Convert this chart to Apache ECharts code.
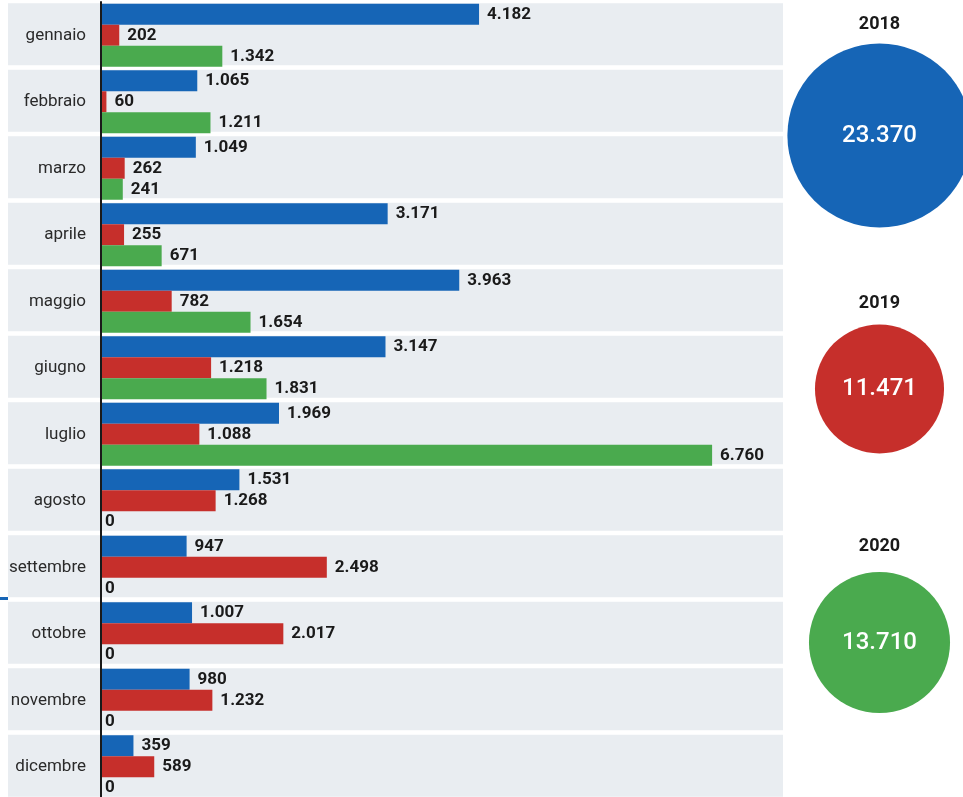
<!DOCTYPE html>
<html><head><meta charset="utf-8">
<script src="https://cdn.jsdelivr.net/npm/echarts@6/dist/echarts.min.js"></script>
<style>html,body{margin:0;padding:0;background:#fff}#c{width:963px;height:797px}</style>
</head><body><div id="c"></div>
<script>
// ---- data ----
const months = ['gennaio','febbraio','marzo','aprile','maggio','giugno','luglio','agosto','settembre','ottobre','novembre','dicembre'];
const v2018 = [4182,1065,1049,3171,3963,3147,1969,1531,947,1007,980,359];
const v2019 = [202,60,262,255,782,1218,1088,1268,2498,2017,1232,589];
const v2020 = [1342,1211,241,671,1654,1831,6760,0,0,0,0,0];
const years = ['2018','2019','2020'];
const totals = [23370,11471,13710];

// ---- style ----
const FONT = "Roboto,'Liberation Sans',sans-serif";
const COLORS = ['#1665b6','#c62f2b','#4aaa4e'];
const BAND = '#e9edf1';
const titleDistance = [10, 12, 16];
const fmt = v => String(v).replace(/\B(?=(\d{3})+(?!\d))/g, '.');

const chart = echarts.init(document.getElementById('c'), null, {renderer: 'canvas'});

function barSeries(name, vals, color) {
  return {
    name, type: 'bar', xAxisIndex: 0, yAxisIndex: 0, z: 3,
    barWidth: 21, barGap: '0%',
    itemStyle: {color},
    label: {show: true, position: 'right', distance: 8, color: '#1a1a1a',
      fontFamily: FONT, fontWeight: 'bold', fontSize: 17, formatter: p => fmt(p.value)},
    data: vals.map(v => v === 0 ? {value: v, label: {distance: 4}} : v)
  };
}

const option = {
  animation: false,
  backgroundColor: '#fff',
  grid: [
    {left: 101, right: 184, top: 2, height: 798, outerBoundsMode: 'none'},
    {left: 8, right: 180, top: 1, height: 798, outerBoundsMode: 'none'},
    {left: 829.5, width: 100, top: 8.75, height: 760.5, outerBoundsMode: 'none'}
  ],
  xAxis: [
    {gridIndex: 0, type: 'value', min: 0, max: 7500, show: false},
    {gridIndex: 1, type: 'value', min: 0, max: 1, show: false},
    {gridIndex: 2, type: 'category', data: ['totale'], show: false}
  ],
  yAxis: [
    {gridIndex: 0, type: 'category', data: months, inverse: true, z: 5,
      axisLine: {show: true, lineStyle: {color: '#1a1a1a', width: 2}},
      axisTick: {show: false}, splitLine: {show: false},
      axisLabel: {color: '#2a2a2a', fontFamily: FONT, fontSize: 17, margin: 15}},
    {gridIndex: 1, type: 'category', data: months, inverse: true, show: false},
    {gridIndex: 2, type: 'category', data: years, inverse: true, show: false}
  ],
  series: [
    {type: 'bar', xAxisIndex: 1, yAxisIndex: 1, z: 0, silent: true,
      barWidth: 62, itemStyle: {color: BAND}, data: months.map(() => 1)},
    barSeries('2018', v2018, COLORS[0]),
    barSeries('2019', v2019, COLORS[1]),
    barSeries('2020', v2020, COLORS[2]),
    {type: 'scatter', xAxisIndex: 2, yAxisIndex: 2, z: 4, silent: true,
      symbol: 'circle',
      symbolSize: (val, p) => 1.205 * Math.sqrt(totals[p.dataIndex]),
      data: years.map((y, i) => ({value: ['totale', y], itemStyle: {color: COLORS[i], opacity: 1}})),
      label: {show: true, position: 'inside', color: '#fff', fontFamily: FONT, fontSize: 24, fontWeight: 500,
        formatter: p => fmt(totals[p.dataIndex])}},
    {type: 'scatter', xAxisIndex: 2, yAxisIndex: 2, z: 4, silent: true,
      symbol: 'circle',
      symbolSize: (val, p) => 1.205 * Math.sqrt(totals[p.dataIndex]),
      itemStyle: {color: 'rgba(0,0,0,0)', opacity: 1},
      labelLayout: {hideOverlap: false},
      data: years.map((y, i) => ({value: ['totale', y], label: {distance: titleDistance[i]}})),
      label: {show: true, position: 'top', color: '#1a1a1a', fontFamily: FONT, fontSize: 18, fontWeight: 'bold',
        formatter: p => years[p.dataIndex]}}
  ],
  graphic: [
    {type: 'rect', left: 0, top: 597, shape: {width: 8, height: 3}, style: {fill: '#1665b6'}}
  ]
};
chart.setOption(option);
</script>
</body></html>
